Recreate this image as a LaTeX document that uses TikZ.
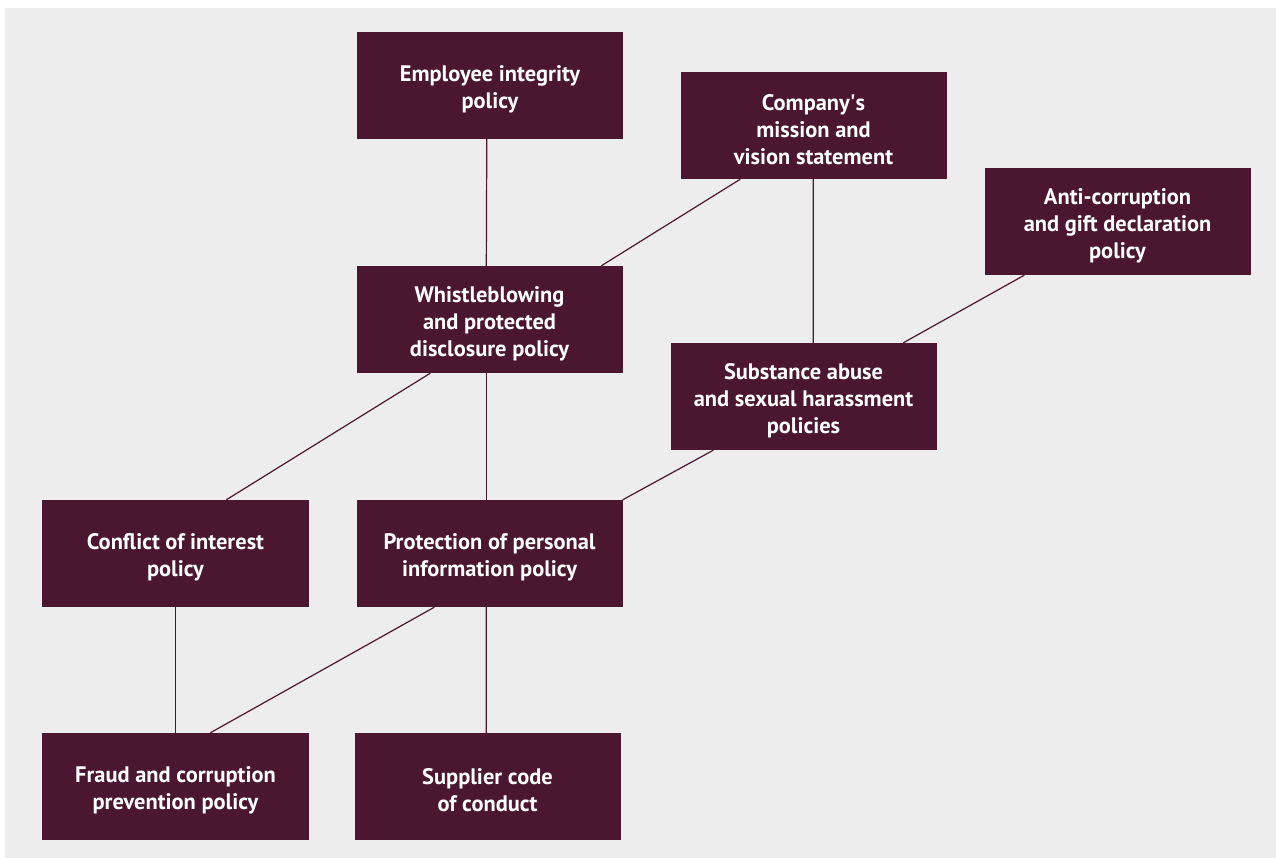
\documentclass[tikz,border=0pt]{standalone}
\usepackage{fontspec}
\setmainfont{PT Sans}
\definecolor{plum}{HTML}{4A1630}
\definecolor{panel}{HTML}{EDEDED}
\begin{document}
\begin{tikzpicture}[x=1bp,y=-1bp,
  box/.style={fill=plum, minimum width=266bp, minimum height=107bp, inner sep=0pt},
  caption/.style={text=white, inner sep=0pt, align=center,
    font=\fontsize{22.5}{27}\selectfont\bfseries},
  link/.style={draw=plum, line width=1.2bp}]
\useasboundingbox (0,0) rectangle (1276,858);
\fill[panel] (5,8) rectangle (1276,858);

% policy boxes
\node[box] (emp)  at (490,85.5)   {};
\node[box] (mis)  at (813.5,125.5) {};
\node[box] (anti) at (1117.5,221.5) {};
\node[box] (whi)  at (489.5,319.5) {};
\node[box] (sub)  at (803.5,396.5) {};
\node[box] (con)  at (175.5,553.5) {};
\node[box] (pro)  at (489.5,553.5) {};
\node[box] (fra)  at (175.5,786.5) {};
\node[box] (sup)  at (487.5,786.5) {};

% box texts, set slightly below the geometric centre
\node[caption] (empT)  at ([yshift=-4bp]emp.center)  {Employee integrity\\policy};
\node[caption] (misT)  at ([yshift=-4bp]mis.center)  {Company\textquotesingle s\\mission and\\vision statement};
\node[caption] (antiT) at ([yshift=-4bp]anti.center) {Anti-corruption\\and gift declaration\\policy};
\node[caption] (whiT)  at ([yshift=-4bp]whi.center)  {Whistleblowing\\and protected\\disclosure policy};
\node[caption] (subT)  at ([yshift=-4bp]sub.center)  {Substance abuse\\and sexual harassment\\policies};
\node[caption] (conT)  at ([yshift=-4bp]con.center)  {Conflict of interest\\policy};
\node[caption] (proT)  at ([yshift=-4bp]pro.center)  {Protection of personal\\information policy};
\node[caption] (fraT)  at ([yshift=-4bp]fra.center)  {Fraud and corruption\\prevention policy};
\node[caption] (supT)  at ([yshift=-4bp]sup.center)  {Supplier code\\of conduct};

% connectors
\draw[link] ([xshift=130bp]emp.south west) -- ([xshift=130bp]whi.north west);
\draw[link] ([xshift=60bp]mis.south west)  -- ([xshift=245bp]whi.north west);
\draw[link] ([xshift=133bp]mis.south west) -- ([xshift=143bp]sub.north west);
\draw[link] ([xshift=40bp]anti.south west) -- ([xshift=233bp]sub.north west);
\draw[link] ([xshift=74bp]whi.south west)  -- ([xshift=184bp]con.north west);
\draw[link] ([xshift=130bp]whi.south west) -- ([xshift=130bp]pro.north west);
\draw[link] ([xshift=43bp]sub.south west)  -- (pro.north east);
\draw[link] ([xshift=133bp]con.south west) -- ([xshift=133bp]fra.north west);
\draw[link] ([xshift=78bp]pro.south west)  -- ([xshift=168bp]fra.north west);
\draw[link] ([xshift=130bp]pro.south west) -- ([xshift=132bp]sup.north west);
\end{tikzpicture}
\end{document}
